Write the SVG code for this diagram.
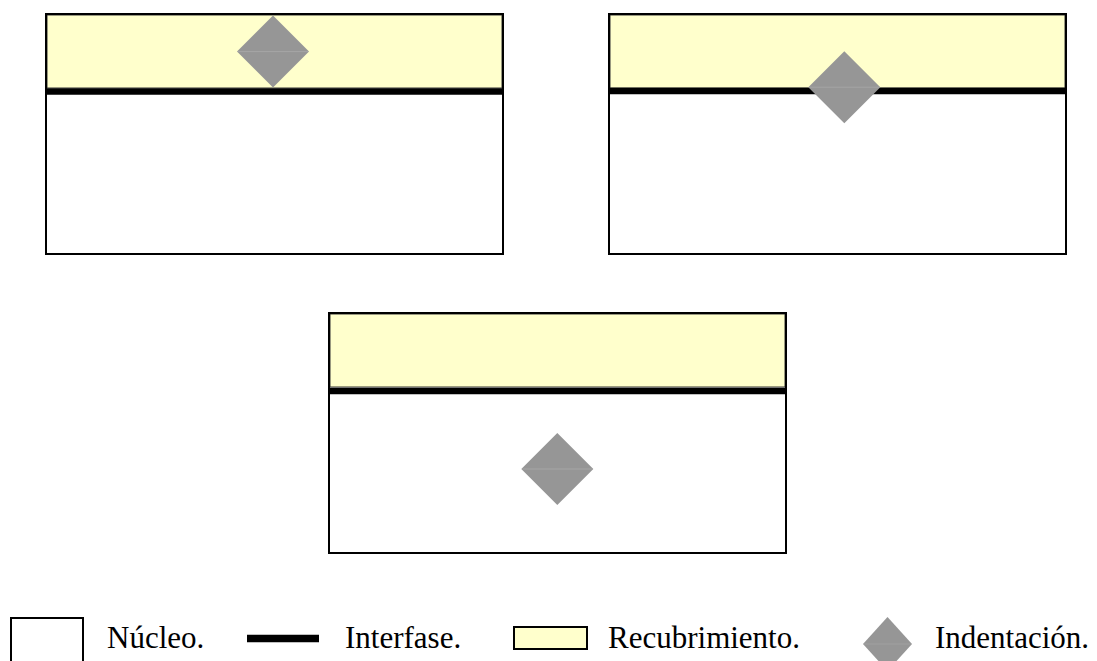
<svg xmlns="http://www.w3.org/2000/svg" width="1097" height="661" viewBox="0 0 1097 661">
  <defs>
    <style>
      .core { fill: #ffffff; stroke: #000000; stroke-width: 2; }
      .coat { fill: #ffffcc; stroke: #333333; stroke-width: 1; }
      .frame { fill: none; stroke: #000000; stroke-width: 2; }
      .iface { stroke: #000000; stroke-width: 6.5; }
      .dent { fill: #969696; }
      .seam { stroke: #a6a6a6; stroke-width: 1; }
      .label { font-family: "Liberation Serif", "Times New Roman", serif; font-size: 31px; fill: #000000; }
    </style>
    <!-- diamond-shaped indent, centred on the origin, made of two halves -->
    <g id="indent">
      <polygon class="dent" points="-36,0 0,-36 36,0 0,36"/>
      <line class="seam" x1="-35" y1="0" x2="35" y2="0"/>
    </g>
  </defs>

  <!-- Panel A: indent inside the coating -->
  <g id="panel-a">
    <rect class="core" x="46" y="14" width="457" height="240"/>
    <rect class="coat" x="47" y="15" width="455" height="73"/>
    <line class="iface" x1="46" y1="91.5" x2="503" y2="91.5"/>
    <use href="#indent" transform="translate(273,51.6)"/>
    <rect class="frame" x="46" y="14" width="457" height="240"/>
  </g>

  <!-- Panel B: indent across the interface -->
  <g id="panel-b">
    <rect class="core" x="609" y="14" width="457" height="240"/>
    <rect class="coat" x="610" y="15" width="455" height="73"/>
    <line class="iface" x1="609" y1="91" x2="1066" y2="91"/>
    <use href="#indent" transform="translate(844.3,87.2)"/>
    <rect class="frame" x="609" y="14" width="457" height="240"/>
  </g>

  <!-- Panel C: indent inside the core -->
  <g id="panel-c">
    <rect class="core" x="329" y="313" width="457" height="240"/>
    <rect class="coat" x="330" y="314" width="455" height="73"/>
    <line class="iface" x1="329" y1="391" x2="786" y2="391"/>
    <use href="#indent" transform="translate(557.3,469)"/>
    <rect class="frame" x="329" y="313" width="457" height="240"/>
  </g>

  <!-- Legend -->
  <g id="legend-core">
    <rect class="core" x="11" y="618" width="72" height="60"/>
    <text class="label" x="107" y="648">Núcleo.</text>
  </g>
  <g id="legend-interface">
    <line x1="247" y1="638.5" x2="319" y2="638.5" stroke="#000000" stroke-width="7.5"/>
    <text class="label" x="345" y="648">Interfase.</text>
  </g>
  <g id="legend-coating">
    <rect x="514" y="627" width="73" height="22" fill="#ffffcc" stroke="#000000" stroke-width="2"/>
    <text class="label" x="608" y="648">Recubrimiento.</text>
  </g>
  <g id="legend-indent">
    <use href="#indent" transform="translate(887.5,644) scale(0.68,0.75)"/>
    <text class="label" x="935" y="648">Indentación.</text>
  </g>
</svg>
